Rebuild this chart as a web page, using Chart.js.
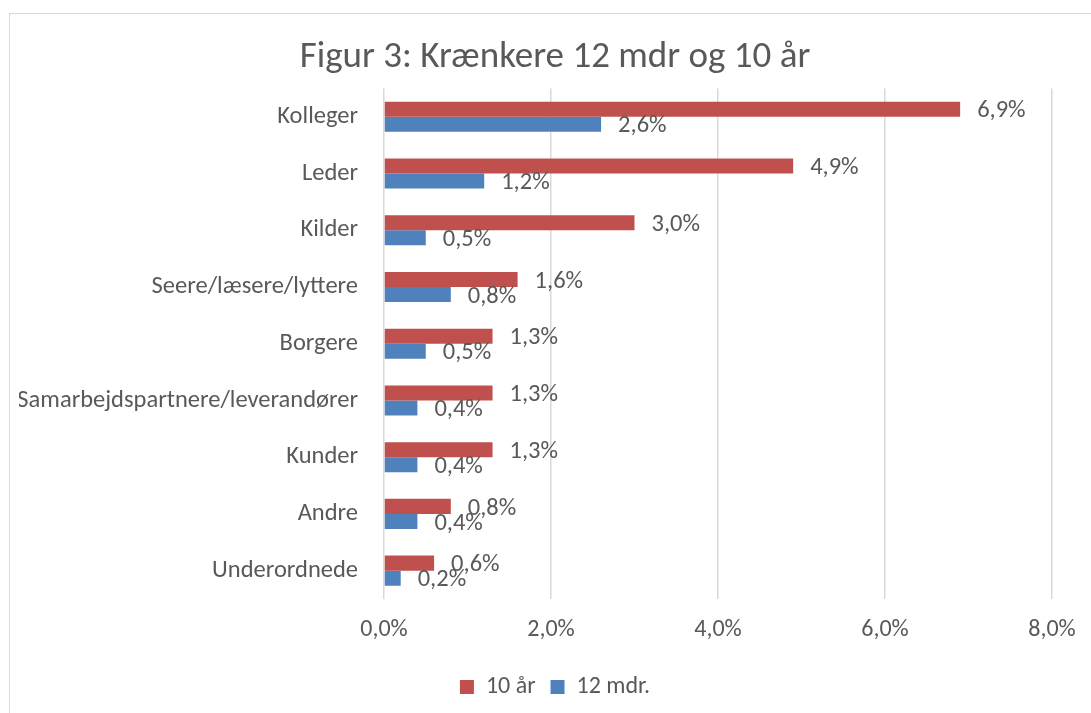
<!DOCTYPE html>
<html>
<head>
<meta charset="utf-8">
<script src="https://cdn.jsdelivr.net/npm/chart.js@4"></script>
<style>
  html, body { margin: 0; padding: 0; background: #fff; }
  #wrap { position: relative; width: 1091px; height: 713px; overflow: hidden; }
  #frame { position: absolute; left: 9px; top: 13px; width: 1200px; height: 800px; border: 1px solid #d9d9d9; }
  canvas { position: absolute; left: 0; top: 0; }
</style>
</head>
<body>
<div id="wrap">
  <div id="frame"></div>
  <canvas id="chart" width="1091" height="713"></canvas>
</div>
<script>
  const categories = ['Kolleger', 'Leder', 'Kilder', 'Seere/læsere/lyttere', 'Borgere',
    'Samarbejdspartnere/leverandører', 'Kunder', 'Andre', 'Underordnede'];
  const tenYears = [6.9, 4.9, 3.0, 1.6, 1.3, 1.3, 1.3, 0.8, 0.6];
  const twelveMonths = [2.6, 1.2, 0.5, 0.8, 0.5, 0.4, 0.4, 0.4, 0.2];
  const xTicks = [0, 2, 4, 6, 8];

  const fontFamily = 'Carlito, Lato, sans-serif';
  const textColor = '#595959';

  function pct(v) {
    return v.toFixed(1).replace('.', ',') + '%';
  }

  // labels right of each bar end, like excel's "outside end"
  const barLabels = {
    id: 'barLabels',
    afterDatasetsDraw(chart) {
      const ctx = chart.ctx;
      ctx.save();
      ctx.font = '24.5px ' + fontFamily;
      ctx.fillStyle = textColor;
      ctx.textAlign = 'left';
      ctx.textBaseline = 'middle';
      chart.data.datasets.forEach((ds, i) => {
        const meta = chart.getDatasetMeta(i);
        meta.data.forEach((bar, j) => {
          ctx.fillText(pct(ds.data[j]), bar.x + 17, bar.y + 2);
        });
      });
      ctx.restore();
    }
  };

  new Chart(document.getElementById('chart'), {
    type: 'bar',
    data: {
      labels: categories,
      datasets: [
        {
          label: '10 år',
          data: tenYears,
          backgroundColor: '#c0504d',
          barPercentage: 1,
          categoryPercentage: 0.53
        },
        {
          label: '12 mdr.',
          data: twelveMonths,
          backgroundColor: '#4f81bd',
          barPercentage: 1,
          categoryPercentage: 0.53
        }
      ]
    },
    options: {
      indexAxis: 'y',
      responsive: false,
      animation: false,
      layout: { padding: { left: 19, right: 0, top: 26, bottom: 4 } },
      plugins: {
        title: {
          display: true,
          text: 'Figur 3: Krænkere 12 mdr og 10 år',
          color: textColor,
          font: { family: fontFamily, size: 37, weight: 'normal', lineHeight: 1.2 },
          padding: { top: 10, bottom: 8 }
        },
        legend: {
          position: 'bottom',
          labels: {
            color: textColor,
            font: { family: fontFamily, size: 24 },
            boxWidth: 14,
            boxHeight: 14,
            padding: 15
          }
        },
        tooltip: { enabled: false }
      },
      scales: {
        x: {
          min: 0,
          max: 8,
          afterBuildTicks: (scale) => {
            scale.ticks = xTicks.map(v => ({ value: v }));
          },
          afterFit: (scale) => {
            scale.height = 61;
            scale.paddingRight = 39;
          },
          ticks: {
            color: textColor,
            font: { family: fontFamily, size: 24 },
            padding: 17,
            callback: (v) => pct(v)
          },
          grid: { color: '#d9d9d9', lineWidth: 1.5, drawTicks: false },
          border: { display: false }
        },
        y: {
          afterFit: (scale) => { scale.width = 384 - 19; },
          ticks: {
            color: textColor,
            font: { family: fontFamily, size: 24.5 },
            padding: 18
          },
          grid: { display: false },
          border: { display: false }
        }
      }
    },
    plugins: [barLabels]
  });
</script>
</body>
</html>
